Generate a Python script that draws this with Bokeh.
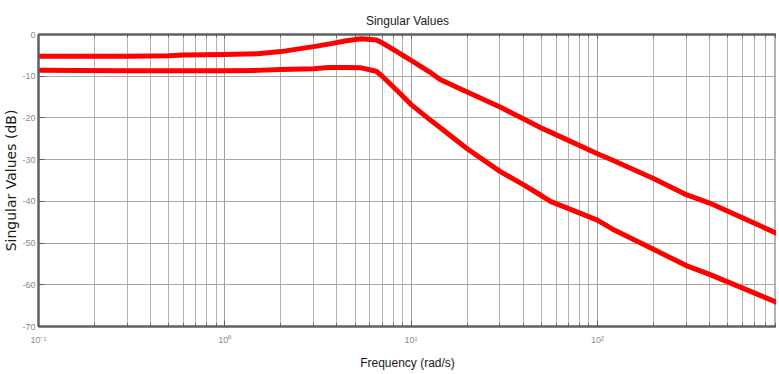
from bokeh.plotting import figure
from bokeh.models import FixedTicker, LogAxis, Range1d
from bokeh.embed import file_html
from bokeh.resources import INLINE

# Data (frequency in rad/s, singular values in dB)
freq = [0.1, 0.3, 0.5, 0.6, 1.0, 1.5, 2.0, 3.0, 3.6, 4.5, 5.4, 6.5, 7.0, 8.3,
        10, 12.6, 14.3, 20, 30, 40, 50, 56, 100, 120, 200, 300, 400, 1000]
sv1 = [-5.2, -5.2, -5.1, -4.9, -4.8, -4.6, -4.1, -2.9, -2.3, -1.5, -1.0, -1.3,
       -2.0, -4.0, -6.2, -9.0, -10.8, -13.8, -17.4, -20.2, -22.4, -23.4, -28.6,
       -30.1, -34.5, -38.4, -40.4, -48.4]
sv2 = [-8.6, -8.7, -8.7, -8.7, -8.7, -8.6, -8.4, -8.2, -7.9, -7.9, -8.0, -8.8,
       -10.0, -13.2, -16.8, -20.4, -22.3, -27.4, -32.8, -36.0, -38.6, -40.0,
       -44.5, -46.6, -51.5, -55.4, -57.5, -64.9]

x_major = [0.1, 1, 10, 100, 1000]
x_labels = ["10\u207b\u00b9", "10\u2070", "10\u00b9", "10\u00b2", "10\u00b3"]
x_minor = [m * d for d in [0.1, 1, 10, 100] for m in range(2, 10)]
y_major = [0, -10, -20, -30, -40, -50, -60, -70]
y_labels = ["0", "-10", "-20", "-30", "-40", "-50", "-60", "-70"]

title_text = "Singular Values"
x_title = "Frequency (rad/s)"
y_title = "Singular Values (dB)"

SANS = "Liberation Sans"

p = figure(width=776, height=372, x_axis_type="log",
           x_range=Range1d(0.1, 915), y_range=Range1d(-70, 0),
           output_backend="svg", toolbar_location=None,
           min_border_left=33, min_border_right=0,
           min_border_top=34, min_border_bottom=45)

p.background_fill_color = "white"
p.border_fill_color = "white"
p.outline_line_color = "#606060"
p.outline_line_width = 2

p.title.text = title_text
p.title.align = "center"
p.title.text_font = SANS
p.title.text_font_size = "12px"
p.title.text_font_style = "normal"
p.title.text_color = "#1a1a1a"
p.title.standoff = 13

xt = FixedTicker(ticks=x_major, minor_ticks=x_minor)
yt = FixedTicker(ticks=y_major)

xa = p.xaxis[0]
xa.ticker = xt
xa.major_label_overrides = {t: l for t, l in zip(x_major, x_labels)}
xa.axis_label = x_title
xa.axis_label_text_font = SANS
xa.axis_label_text_font_size = "12px"
xa.axis_label_text_font_style = "normal"
xa.axis_label_text_color = "#1a1a1a"
xa.axis_label_standoff = 8

ya = p.yaxis[0]
ya.ticker = yt
ya.major_label_overrides = {t: l for t, l in zip(y_major, y_labels)}
ya.axis_label = y_title
ya.axis_label_text_font = "DejaVu Sans"
ya.axis_label_text_font_size = "14px"
ya.axis_label_text_font_style = "normal"
ya.axis_label_text_color = "#1a1a1a"
ya.axis_label_standoff = 0

for ax in (xa, ya):
    ax.axis_line_color = "#606060"
    ax.axis_line_width = 2
    ax.major_tick_line_color = "#606060"
    ax.minor_tick_line_color = "#606060"
    ax.major_tick_out = 0
    ax.minor_tick_out = 0
    ax.major_tick_in = 6
    ax.minor_tick_in = 3
    ax.major_label_text_font = SANS
    ax.major_label_text_font_size = "9px"
    ax.major_label_text_color = "#8a8a8a"
xa.major_label_standoff = 8
ya.major_label_standoff = 3

top = LogAxis(ticker=xt, major_label_text_font_size="2px",
              major_label_text_alpha=0.0,
              major_label_standoff=0, axis_line_color="#606060",
              axis_line_width=2, major_tick_out=0, minor_tick_out=0,
              major_tick_in=4, minor_tick_in=3,
              major_tick_line_color="#606060", minor_tick_line_color="#606060")
p.add_layout(top, "above")

p.xgrid.ticker = xt
p.xgrid.grid_line_color = "#a0a0a0"
p.xgrid.grid_line_width = 1
p.xgrid.minor_grid_line_color = "#b4b4b4"
p.xgrid.minor_grid_line_width = 1
p.ygrid.ticker = yt
p.ygrid.grid_line_color = "#a8a8a8"
p.ygrid.grid_line_width = 1

p.line(freq, sv1, line_color="#ff0000", line_width=5, line_join="round")
p.line(freq, sv2, line_color="#ff0000", line_width=5, line_join="round")

open("out.html", "w").write(file_html(p, INLINE))
